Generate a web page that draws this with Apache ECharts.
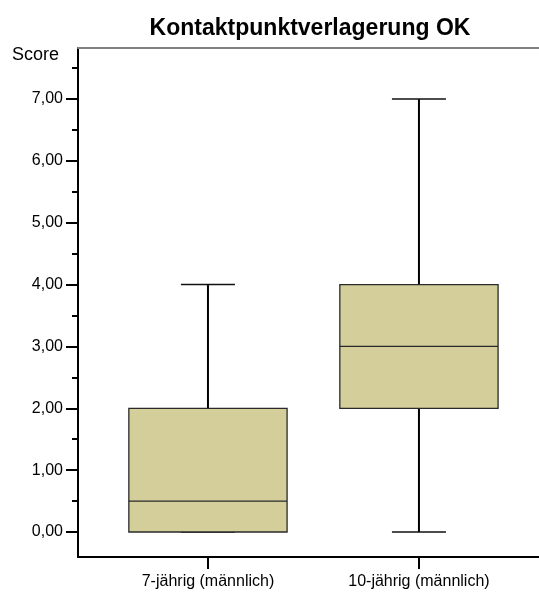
<!DOCTYPE html>
<html>
<head>
<meta charset="utf-8">
<script src="https://cdn.jsdelivr.net/npm/echarts@6/dist/echarts.min.js"></script>
<style>
  html, body { margin: 0; padding: 0; background: #fff; }
  #chart { width: 539px; height: 592px; }
</style>
</head>
<body>
<div id="chart"></div>
<script>
// Groups shown along the horizontal axis
const categories = ['7-jährig (männlich)', '10-jährig (männlich)'];
// Five-number summaries per group: minimum, lower quartile, median, upper quartile, maximum
const minimums = [0, 0];
const lowerQuartiles = [0, 2];
const medians = [0.5, 3];
const upperQuartiles = [2, 4];
const maximums = [4, 7];
// Score axis ticks
const yLabelTicks = [0, 1, 2, 3, 4, 5, 6, 7];
const yMinorTicks = [0.5, 1.5, 2.5, 3.5, 4.5, 5.5, 6.5, 7.5];
const xTicks = [0, 1];

const boxData = categories.map((c, i) => [i, minimums[i], lowerQuartiles[i], medians[i], upperQuartiles[i], maximums[i]]);

const FONT = '"Liberation Sans", Arial, sans-serif';
const chart = echarts.init(document.getElementById('chart'));

function renderBox(params, api) {
  const x = api.value(0);
  const pMin = api.coord([x, api.value(1)]);
  const pQ1 = api.coord([x, api.value(2)]);
  const pMed = api.coord([x, api.value(3)]);
  const pQ3 = api.coord([x, api.value(4)]);
  const pMax = api.coord([x, api.value(5)]);
  const unit = api.size([1, 0])[0];
  const bw = unit * 0.75;
  const cw = unit * 0.256;
  const cx = pMed[0];
  const line = (x1, y1, x2, y2, w, c) => ({
    type: 'line',
    shape: { x1, y1, x2, y2 },
    style: { stroke: c, lineWidth: w }
  });
  return {
    type: 'group',
    children: [
      line(cx, pQ3[1], cx, pMax[1], 2, '#000'),
      line(cx, pQ1[1], cx, pMin[1], 2, '#000'),
      line(cx - cw / 2, pMax[1], cx + cw / 2, pMax[1], 1.5, '#111'),
      line(cx - cw / 2, pMin[1], cx + cw / 2, pMin[1], 1.5, '#111'),
      {
        type: 'rect',
        shape: { x: cx - bw / 2, y: pQ3[1], width: bw, height: pQ1[1] - pQ3[1] },
        style: { fill: '#D3CE9A', stroke: '#2a2a2a', lineWidth: 1.3 }
      },
      line(cx - bw / 2, pMed[1], cx + bw / 2, pMed[1], 1.2, '#2a2a2a')
    ]
  };
}

chart.setOption({
  animation: false,
  backgroundColor: '#fff',
  title: {
    text: 'Kontaktpunktverlagerung OK',
    left: 305,
    textAlign: 'center',
    top: 12,
    textStyle: { fontFamily: FONT, fontSize: 23, fontWeight: 'bold', color: '#000' }
  },
  graphic: [{
    type: 'text',
    left: 12,
    top: 46,
    style: { text: 'Score', font: '18px ' + FONT, fill: '#000' }
  }],
  grid: { left: 78, right: 0, top: 48, bottom: 35 },
  xAxis: [{
    type: 'value',
    min: -0.616,
    max: 1.569,
    splitLine: { show: false },
    axisLine: { show: true, onZero: false, lineStyle: { color: '#000', width: 2 } },
    axisTick: { show: true, customValues: xTicks, length: 12, lineStyle: { color: '#000', width: 2 } },
    axisLabel: {
      customValues: xTicks,
      margin: 17,
      fontFamily: FONT,
      fontSize: 16,
      color: '#000',
      formatter: v => categories[Math.round(v)]
    }
  }, {
    type: 'value',
    position: 'top',
    min: -0.616,
    max: 1.569,
    splitLine: { show: false },
    axisLine: { show: true, onZero: false, lineStyle: { color: '#808080', width: 2 } },
    axisTick: { show: false },
    axisLabel: { show: false }
  }],
  yAxis: [{
    type: 'value',
    min: -0.404,
    max: 7.824,
    splitLine: { show: false },
    axisLine: { show: true, onZero: false, lineStyle: { color: '#000', width: 2 } },
    axisTick: { show: true, customValues: yLabelTicks, length: 12, lineStyle: { color: '#000', width: 2 } },
    axisLabel: {
      customValues: yLabelTicks,
      margin: 15,
      fontFamily: FONT,
      fontSize: 16,
      color: '#000',
      formatter: v => v.toFixed(2).replace('.', ',')
    }
  }, {
    type: 'value',
    position: 'left',
    min: -0.404,
    max: 7.824,
    splitLine: { show: false },
    axisLine: { show: false, onZero: false },
    axisTick: { show: true, customValues: yMinorTicks, length: 6, lineStyle: { color: '#000', width: 2 } },
    axisLabel: { show: false }
  }],
  series: [{
    type: 'custom',
    xAxisIndex: 0,
    yAxisIndex: 0,
    renderItem: renderBox,
    encode: { x: 0, y: [1, 2, 3, 4, 5] },
    data: boxData
  }]
});
</script>
</body>
</html>
